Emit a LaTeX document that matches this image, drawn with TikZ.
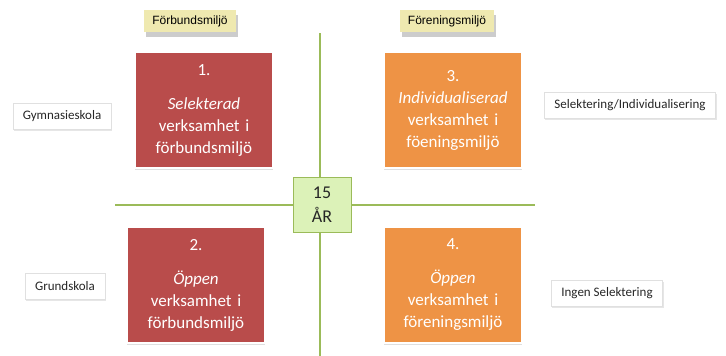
\documentclass[tikz,border=0pt]{standalone}
\usepackage{fontspec}
\setmainfont{Carlito}
\newfontfamily\tagfont{Liberation Sans}
\usetikzlibrary{shadows}
\definecolor{boxred}{HTML}{B94C4B}
\definecolor{boxorange}{HTML}{EE9345}
\definecolor{axisgreen}{HTML}{9BBB59}
\definecolor{agefill}{HTML}{DCF2B8}
\definecolor{tagfill}{HTML}{EFE9B0}

\begin{document}
\begin{tikzpicture}[x=1pt,y=-1pt,
    quad/.style={minimum width=138pt,minimum height=116pt,text width=130pt,
      align=center,text=white,font=\fontsize{17}{22}\selectfont,
      draw=white,line width=1.5pt,
      drop shadow={opacity=0.25,shadow xshift=0pt,shadow yshift=-2pt}},
    envtag/.style={fill=tagfill,minimum height=22pt,inner xsep=8pt,
      font=\tagfont\fontsize{12}{14}\selectfont,
      drop shadow={opacity=0.4,shadow xshift=2pt,shadow yshift=-5pt}},
    sidelabel/.style={fill=white,draw=black!12,minimum height=26pt,inner xsep=10pt,
      text=black!85,font=\fontsize{13}{15}\selectfont,
      drop shadow={opacity=0.2,shadow xshift=1pt,shadow yshift=-2pt}},
    axis/.style={axisgreen,line width=2.5pt}]

  \useasboundingbox (0,0) rectangle (726,356);

  % axes
  \coordinate (top) at (320,33);
  \coordinate (bottom) at (320,356);
  \coordinate (left) at (115,205);
  \coordinate (right) at (535,205);
  \draw[axis] (top) -- (bottom);
  \draw[axis] (left) -- (right);

  \node[draw=axisgreen,fill=agefill,line width=1pt,minimum width=58pt,
    minimum height=55pt,align=center,text=black!85,
    font=\fontsize{18}{24}\selectfont] (age) at (322,205) {15\\ÅR};

  % quadrants
  \node[quad,fill=boxred] (q1) at (204,110)
    {1.\\[12pt] \textit{Selekterad}\\ verksamhet i\\ förbundsmiljö};
  \node[quad,fill=boxred] (q2) at (196,285)
    {2.\\[12pt] \textit{Öppen}\\ verksamhet i\\ förbundsmiljö};
  \node[quad,fill=boxorange] (q3) at (453,110)
    {3.\\ \textit{Individualiserad}\\ verksamhet i\\ föeningsmiljö};
  \node[quad,fill=boxorange] (q4) at (453,285)
    {4.\\[12pt] \textit{Öppen}\\ verksamhet i\\ föreningsmiljö};

  % environment tags
  \node[envtag] (forbund) at (190,21) {Förbundsmiljö};
  \node[envtag] (forening) at (447,21) {Föreningsmiljö};

  % side labels
  \node[sidelabel] (gymn) at (62,116) {Gymnasieskola};
  \node[sidelabel] (grund) at (65,286) {Grundskola};
  \node[sidelabel] (selind) at (630,105) {Selektering/Individualisering};
  \node[sidelabel] (ingen) at (607,293) {Ingen Selektering};
\end{tikzpicture}
\end{document}
